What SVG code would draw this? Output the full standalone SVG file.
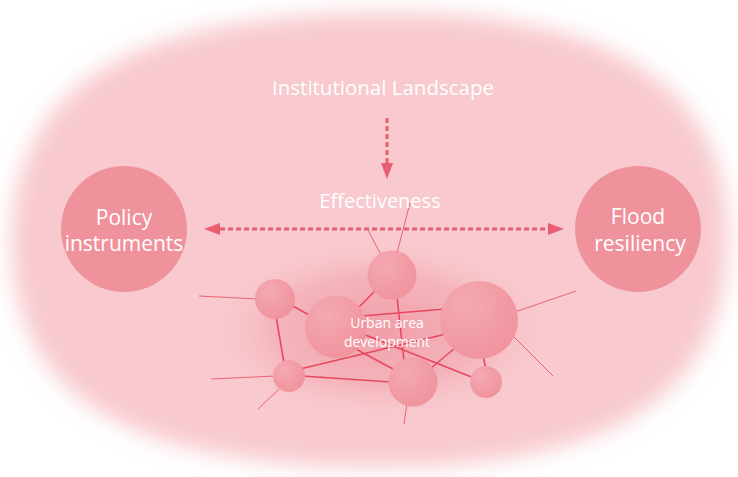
<svg xmlns="http://www.w3.org/2000/svg" width="738" height="477" viewBox="0 0 738 477">
<defs>
<filter id="blur" x="-10%" y="-10%" width="120%" height="120%"><feGaussianBlur stdDeviation="11"/></filter>
<radialGradient id="glow" cx="0.5" cy="0.5" r="0.5">
<stop offset="0" stop-color="#ee8f9b" stop-opacity="0.75"/>
<stop offset="0.6" stop-color="#f09aa5" stop-opacity="0.45"/>
<stop offset="1" stop-color="#f8c9ce" stop-opacity="0"/>
</radialGradient>
<radialGradient id="ball" cx="0.35" cy="0.3" r="0.75">
<stop offset="0" stop-color="#f4a9b1"/>
<stop offset="1" stop-color="#f0939d"/>
</radialGradient>
<marker id="ah" viewBox="0 0 16 12" refX="0" refY="6" markerWidth="16" markerHeight="12" markerUnits="userSpaceOnUse" orient="auto-start-reverse">
<path d="M0 0 L16 6 L0 12 Z" fill="#ea5e71"/>
</marker>
<style>
.big{fill:#f0929c}
.ball{fill:url(#ball)}
.lbl{fill:#ffffff;font-family:"Open Sans","Noto Sans",sans-serif;text-anchor:middle}
.link{stroke:#e8485e;stroke-width:1.6;fill:none}
.thin{stroke:#e8586c;stroke-width:0.9;fill:none}
.dash{stroke:#ea5e71;stroke-width:3;stroke-dasharray:5 3;fill:none}
</style>
</defs>
<rect width="738" height="477" fill="#ffffff"/>
<path d="M370 13 C602 9 730 80 728 240 C726 402 602 469 370 467 C138 465 10 402 12 240 C14 80 138 17 370 13 Z" fill="#f8c9ce" filter="url(#blur)"/>
<ellipse cx="380" cy="330" rx="175" ry="92" fill="url(#glow)"/>

<g id="connectors">
<line class="thin" x1="368" y1="230" x2="381" y2="255"/>
<line class="thin" x1="410" y1="203" x2="397" y2="253"/>
<line class="thin" x1="199" y1="296" x2="258" y2="299"/>
<line class="link" x1="289" y1="304" x2="311" y2="316"/>
<line class="link" x1="276" y1="316" x2="284" y2="363"/>
<line class="link" x1="357" y1="309" x2="376" y2="290"/>
<line class="link" x1="397" y1="297" x2="404" y2="361"/>
<line class="link" x1="362" y1="316" x2="445" y2="309"/>
<line class="thin" x1="515" y1="312" x2="576" y2="291"/>
<line class="thin" x1="512" y1="335" x2="553" y2="376"/>
<line class="link" x1="483" y1="356" x2="486" y2="369"/>
<line class="link" x1="446" y1="334" x2="300" y2="369"/>
<line class="link" x1="363" y1="334" x2="474" y2="378"/>
<line class="link" x1="354" y1="348" x2="393" y2="369"/>
<line class="link" x1="455" y1="348" x2="430" y2="369"/>
<line class="link" x1="302" y1="376" x2="391" y2="382"/>
<line class="thin" x1="211" y1="379" x2="276" y2="376"/>
<line class="thin" x1="279" y1="389" x2="258" y2="409"/>
<line class="thin" x1="407" y1="403" x2="404" y2="424"/>
<line class="dash" x1="387" y1="118" x2="387" y2="163" marker-end="url(#ah)"/>
<line class="dash" x1="220" y1="229" x2="548" y2="229" marker-start="url(#ah)" marker-end="url(#ah)"/>
</g>

<g id="title"><text class="lbl" x="383" y="95" font-size="20.5">Institutional Landscape</text></g>
<g id="effectiveness"><text class="lbl" x="380" y="208" font-size="20">Effectiveness</text></g>

<g id="policy">
<circle class="big" cx="124" cy="229" r="63"/>
<text class="lbl" x="124" y="225" font-size="21">Policy</text>
<text class="lbl" x="124" y="251" font-size="21">instruments</text>
</g>
<g id="flood">
<circle class="big" cx="638" cy="229" r="63"/>
<text class="lbl" x="638" y="224" font-size="21">Flood</text>
<text class="lbl" x="640" y="251" font-size="21">resiliency</text>
</g>

<g id="n1"><circle class="ball" cx="392" cy="275" r="24.5"/></g>
<g id="n2"><circle class="ball" cx="275" cy="299" r="20"/></g>
<g id="n3"><circle class="ball" cx="336" cy="327" r="31"/></g>
<g id="n4"><circle class="ball" cx="479" cy="320" r="39"/></g>
<g id="n5"><circle class="ball" cx="289" cy="376" r="16"/></g>
<g id="n6"><circle class="ball" cx="413" cy="382" r="24.5"/></g>
<g id="n7"><circle class="ball" cx="486" cy="382" r="16"/></g>
<g id="urban">
<text class="lbl" x="387" y="328" font-size="14">Urban area</text>
<text class="lbl" x="387" y="347" font-size="14">development</text>
</g>
</svg>
